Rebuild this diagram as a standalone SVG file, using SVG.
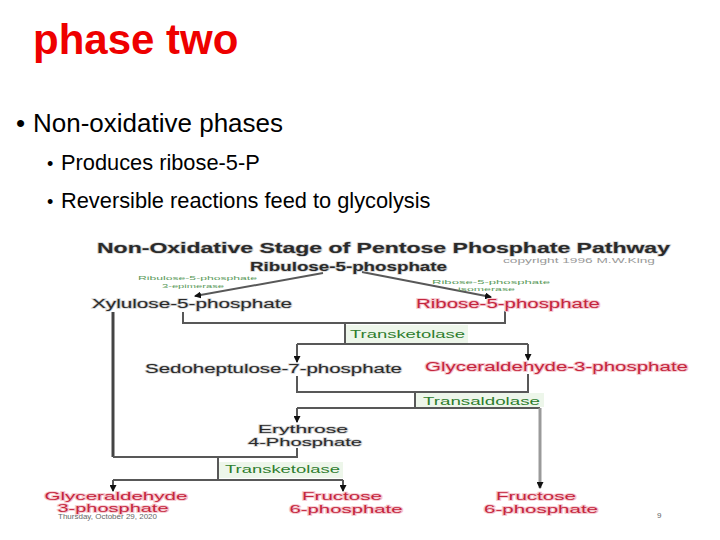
<svg xmlns="http://www.w3.org/2000/svg" width="720" height="540" viewBox="0 0 720 540">
<style>
.slide{font-family:"Liberation Sans",Arial,sans-serif;fill:#000}
.d{font-family:"Liberation Sans",Arial,sans-serif;font-size:12px;fill:#2a2a2a;stroke:#c8c8c8;stroke-width:1.2;paint-order:stroke}
.r{font-family:"Liberation Sans",Arial,sans-serif;font-size:12px;fill:#c4263e;stroke:#f5c4cc;stroke-width:1.6;paint-order:stroke}
.t2{font-size:11px}
.g{font-family:"Liberation Sans",Arial,sans-serif;font-size:11px;fill:#2e7d2e}
.gs{font-family:"Liberation Sans",Arial,sans-serif;font-size:6px;fill:#5a9a5a}
.ln{stroke:#585858;stroke-width:2;fill:none}
.bg{fill:#edf6ea}
</style>
<defs>
<marker id="ah" markerWidth="7" markerHeight="7" refX="6" refY="3.5" orient="auto" markerUnits="userSpaceOnUse">
<path d="M0,0 L7,3.5 L0,7 Z" fill="#111"/>
</marker>
</defs>

<g id="slide-title"><text class="slide" x="33" y="54" font-size="42" font-weight="bold" style="fill:#ee0000">phase two</text></g>
<g id="bullets">
<text class="slide" x="16" y="132" font-size="26">•</text>
<text class="slide" x="33" y="132" font-size="26">Non-oxidative phases</text>
<text class="slide" x="47" y="170" font-size="18">•</text>
<text class="slide" x="61" y="170" font-size="21.8">Produces ribose-5-P</text>
<text class="slide" x="47" y="208" font-size="18">•</text>
<text class="slide" x="61" y="208" font-size="21.8">Reversible reactions feed to glycolysis</text>
</g>

<g id="diagram-title">
<text class="d" x="97" y="253" font-weight="bold" textLength="573" lengthAdjust="spacingAndGlyphs" style="font-size:14px">Non-Oxidative Stage of Pentose Phosphate Pathway</text>
<text x="503" y="263" font-family="Liberation Sans,Arial,sans-serif" font-size="7" fill="#999" textLength="152" lengthAdjust="spacingAndGlyphs">copyright 1996 M.W.King</text>
</g>

<g id="connectors">
<line class="ln" x1="323" y1="273" x2="195" y2="296" marker-end="url(#ah)"/>
<line class="ln" x1="362" y1="272" x2="491" y2="297" marker-end="url(#ah)"/>
<polyline class="ln" points="183,312 183,323 505,323 505,311"/>
<line class="ln" x1="345" y1="323" x2="345" y2="344"/>
<line class="ln" x1="297" y1="344" x2="528" y2="344"/>
<line class="ln" x1="297" y1="344" x2="297" y2="362" marker-end="url(#ah)"/>
<line class="ln" x1="528" y1="344" x2="528" y2="360" marker-end="url(#ah)"/>
<polyline class="ln" points="297,376 297,392 528,392 528,374"/>
<line class="ln" x1="415" y1="392" x2="415" y2="408"/>
<line class="ln" x1="297" y1="408" x2="540" y2="408"/>
<line class="ln" x1="297" y1="408" x2="297" y2="422" marker-end="url(#ah)"/>
<line x1="540" y1="408" x2="540" y2="488" stroke="#9a9a9a" stroke-width="3" marker-end="url(#ah)"/>
<line x1="113" y1="312" x2="113" y2="457" stroke="#444" stroke-width="3"/>
<polyline class="ln" points="113,457 297,457 297,448"/>
<line class="ln" x1="218" y1="457" x2="218" y2="480"/>
<line class="ln" x1="113" y1="480" x2="343" y2="480"/>
<line class="ln" x1="113" y1="480" x2="113" y2="491" marker-end="url(#ah)"/>
<line class="ln" x1="343" y1="480" x2="343" y2="491" marker-end="url(#ah)"/>
</g>

<g id="ribulose"><text class="d" x="250" y="271" font-weight="bold" textLength="197" lengthAdjust="spacingAndGlyphs">Ribulose-5-phosphate</text></g>
<g id="epimerase">
<text class="gs" x="138" y="280" textLength="119" lengthAdjust="spacingAndGlyphs">Ribulose-5-phosphate</text>
<text class="gs" x="162" y="288" textLength="62" lengthAdjust="spacingAndGlyphs">3-epimerase</text>
</g>
<g id="isomerase">
<text class="gs" x="432" y="284" textLength="118" lengthAdjust="spacingAndGlyphs">Ribose-5-phosphate</text>
<text class="gs" x="458" y="291" textLength="57" lengthAdjust="spacingAndGlyphs">isomerase</text>
</g>
<g id="xylulose"><text class="d" x="92" y="308" textLength="200" lengthAdjust="spacingAndGlyphs">Xylulose-5-phosphate</text></g>
<g id="ribose"><text class="r" x="416" y="308" textLength="184" lengthAdjust="spacingAndGlyphs">Ribose-5-phosphate</text></g>

<g id="transketolase1">
<rect class="bg" x="346" y="325" width="122" height="18"/>
<text class="g" x="350" y="338" textLength="115" lengthAdjust="spacingAndGlyphs">Transketolase</text>
</g>
<g id="sedoheptulose"><text class="d" x="145" y="373" textLength="257" lengthAdjust="spacingAndGlyphs">Sedoheptulose-7-phosphate</text></g>
<g id="g3p"><text class="r" x="425" y="371" textLength="263" lengthAdjust="spacingAndGlyphs">Glyceraldehyde-3-phosphate</text></g>

<g id="transaldolase">
<rect class="bg" x="416" y="393" width="128" height="14"/>
<text class="g" x="423" y="405" textLength="117" lengthAdjust="spacingAndGlyphs">Transaldolase</text>
</g>
<g id="erythrose">
<text class="d t2" x="303" y="433" text-anchor="middle" textLength="90" lengthAdjust="spacingAndGlyphs">Erythrose</text>
<text class="d t2" x="305" y="446" text-anchor="middle" textLength="114" lengthAdjust="spacingAndGlyphs">4-Phosphate</text>
</g>
<g id="transketolase2">
<rect class="bg" x="219" y="462" width="124" height="16"/>
<text class="g" x="225" y="473" textLength="115" lengthAdjust="spacingAndGlyphs">Transketolase</text>
</g>

<g id="glyceraldehyde-3p">
<text class="r t2" x="116" y="500" text-anchor="middle" textLength="143" lengthAdjust="spacingAndGlyphs">Glyceraldehyde</text>
<text class="r t2" x="113" y="512" text-anchor="middle" textLength="111" lengthAdjust="spacingAndGlyphs">3-phosphate</text>
</g>
<g id="fructose6p-a">
<text class="r t2" x="342" y="500" text-anchor="middle" textLength="80" lengthAdjust="spacingAndGlyphs">Fructose</text>
<text class="r t2" x="346" y="513" text-anchor="middle" textLength="113" lengthAdjust="spacingAndGlyphs">6-phosphate</text>
</g>
<g id="fructose6p-b">
<text class="r t2" x="536" y="500" text-anchor="middle" textLength="80" lengthAdjust="spacingAndGlyphs">Fructose</text>
<text class="r t2" x="541" y="513" text-anchor="middle" textLength="114" lengthAdjust="spacingAndGlyphs">6-phosphate</text>
</g>

<g id="footer">
<text x="58" y="519" font-family="Liberation Sans,Arial,sans-serif" font-size="8" fill="#666">Thursday, October 29, 2020</text>
<text x="657" y="518" font-family="Liberation Sans,Arial,sans-serif" font-size="8" fill="#666">9</text>
</g>
</svg>
